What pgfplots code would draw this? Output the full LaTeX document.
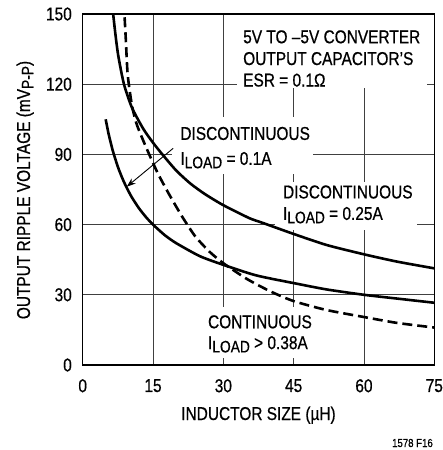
\documentclass[border=0pt]{standalone}
\usepackage{pgfplots}
\pgfplotsset{compat=1.18}
\usetikzlibrary{arrows.meta}
\usepackage{fontspec}
\setmainfont{Liberation Sans}[FakeStretch=0.83, FakeBold=0.6]
\newcommand{\lbl}{\fontsize{18.6bp}{21bp}\selectfont}
\newcommand{\sub}[1]{\raisebox{-3.3bp}{\fontsize{16.6bp}{16bp}\selectfont #1}}
\pgfplotstableread{
x y
6.3 155
6.5 150
7.0 141
7.6 132
8.8 120
10.5 110
12.9 101
15 95
17.2 89.5
20 83
23 77.5
26.1 73
30 68.3
35.5 62.8
38.3 60.8
45 56
52 51.3
60 47.3
67 44.2
75 41.3
}\curveA
\pgfplotstableread{
x y
4.9 105
5.5 99
6.4 91.7
7.5 84.7
8.5 79.6
9.4 75.7
10.5 71.6
12 67
13.5 63.2
15 60
17.5 55.5
20 52
25 46.5
30 42.8
37 38.3
45 35
52 32.3
60 30
67 28.4
75 26.6
}\curveB
\pgfplotstableread{
x y
8.75 155
8.9 150
9.2 139
9.6 124
10.5 111
11.5 103
13 95.5
14.3 89.5
16 82
18 74.5
20 67.5
21.5 62.5
24 55
27 48.5
30 43.5
35 36.8
40 31.5
45 27.3
52 23.5
60 20.5
67 18
75 16
}\curveC
\begin{document}
\begin{tikzpicture}
\useasboundingbox (-82.7bp,-85bp) rectangle (360.3bp,365bp);
\begin{axis}[
  at={(0,0)}, anchor=south west,
  scale only axis, width=351.6bp, height=351bp,
  xmin=0, xmax=75, ymin=0, ymax=150,
  xtick={0,15,30,45,60,75}, ytick={0,30,60,90,120,150},
  grid=major,
  major grid style={black!75, line width=0.8bp},
  axis line style={line width=1.3bp},
  major tick length=0pt,
  tick style={draw=none},
  /pgf/number format/assume math mode=true,
  tick label style={font=\lbl, inner sep=0pt},
  yticklabel style={anchor=east, xshift=-10.7bp},
  xticklabel style={anchor=north, yshift=-14bp},
  clip=true,
]
\fill[white] (axis cs:32.9,118.4) rectangle (axis cs:73.5,149.4);
\fill[white] (axis cs:19.05,81.6) rectangle (axis cs:49.1,106);
\fill[white] (axis cs:41,57.7) rectangle (axis cs:71.3,78.2);
\fill[white] (axis cs:26.1,3) rectangle (axis cs:49.8,24.8);
\addplot[black, line width=2.6bp, smooth, tension=0.4] table[x=x,y=y] {\curveA};
\addplot[black, line width=2.6bp, smooth, tension=0.4] table[x=x,y=y] {\curveB};
\addplot[black, line width=2.6bp, smooth, tension=0.4, dash pattern=on 10bp off 5bp] table[x=x,y=y] {\curveC};
\node[anchor=base west, inner sep=0pt, font=\lbl] at (axis cs:34.2,137.5) {5V TO –5V CONVERTER};
\node[anchor=base west, inner sep=0pt, font=\lbl] at (axis cs:34.2,128.2) {OUTPUT CAPACITOR’S};
\node[anchor=base west, inner sep=0pt, font=\lbl] at (axis cs:34.2,119.0) {ESR = 0.1Ω};
\node[anchor=base west, inner sep=0pt, font=\lbl] at (axis cs:20.8,96.2) {DISCONTINUOUS};
\node[anchor=base west, inner sep=0pt, font=\lbl] at (axis cs:20.8,85.5) {I\sub{LOAD} = 0.1A};
\node[anchor=base west, inner sep=0pt, font=\lbl] at (axis cs:42.7,71.2) {DISCONTINUOUS};
\node[anchor=base west, inner sep=0pt, font=\lbl] at (axis cs:42.7,62.0) {I\sub{LOAD} = 0.25A};
\node[anchor=base west, inner sep=0pt, font=\lbl] at (axis cs:26.7,15.7) {CONTINUOUS};
\node[anchor=base west, inner sep=0pt, font=\lbl] at (axis cs:26.7,6.8) {I\sub{LOAD} > 0.38A};
\draw[black, line width=0.9bp, -{Stealth[length=9bp,width=6.5bp]}] (axis cs:19.3,92.6) -- (axis cs:9.4,76.2);
\end{axis}
\node[rotate=90, anchor=base, inner sep=0pt, font=\lbl] at (-52.7bp,175bp) {OUTPUT RIPPLE VOLTAGE (mV\sub{P-P})};
\node[anchor=base, inner sep=0pt, font=\lbl] at (175.8bp,-55bp) {INDUCTOR SIZE (µH)};
\node[anchor=base east, inner sep=0pt, font=\fontsize{11.6bp}{12bp}\selectfont] at (350.3bp,-82bp) {1578 F16};
\end{tikzpicture}
\end{document}
